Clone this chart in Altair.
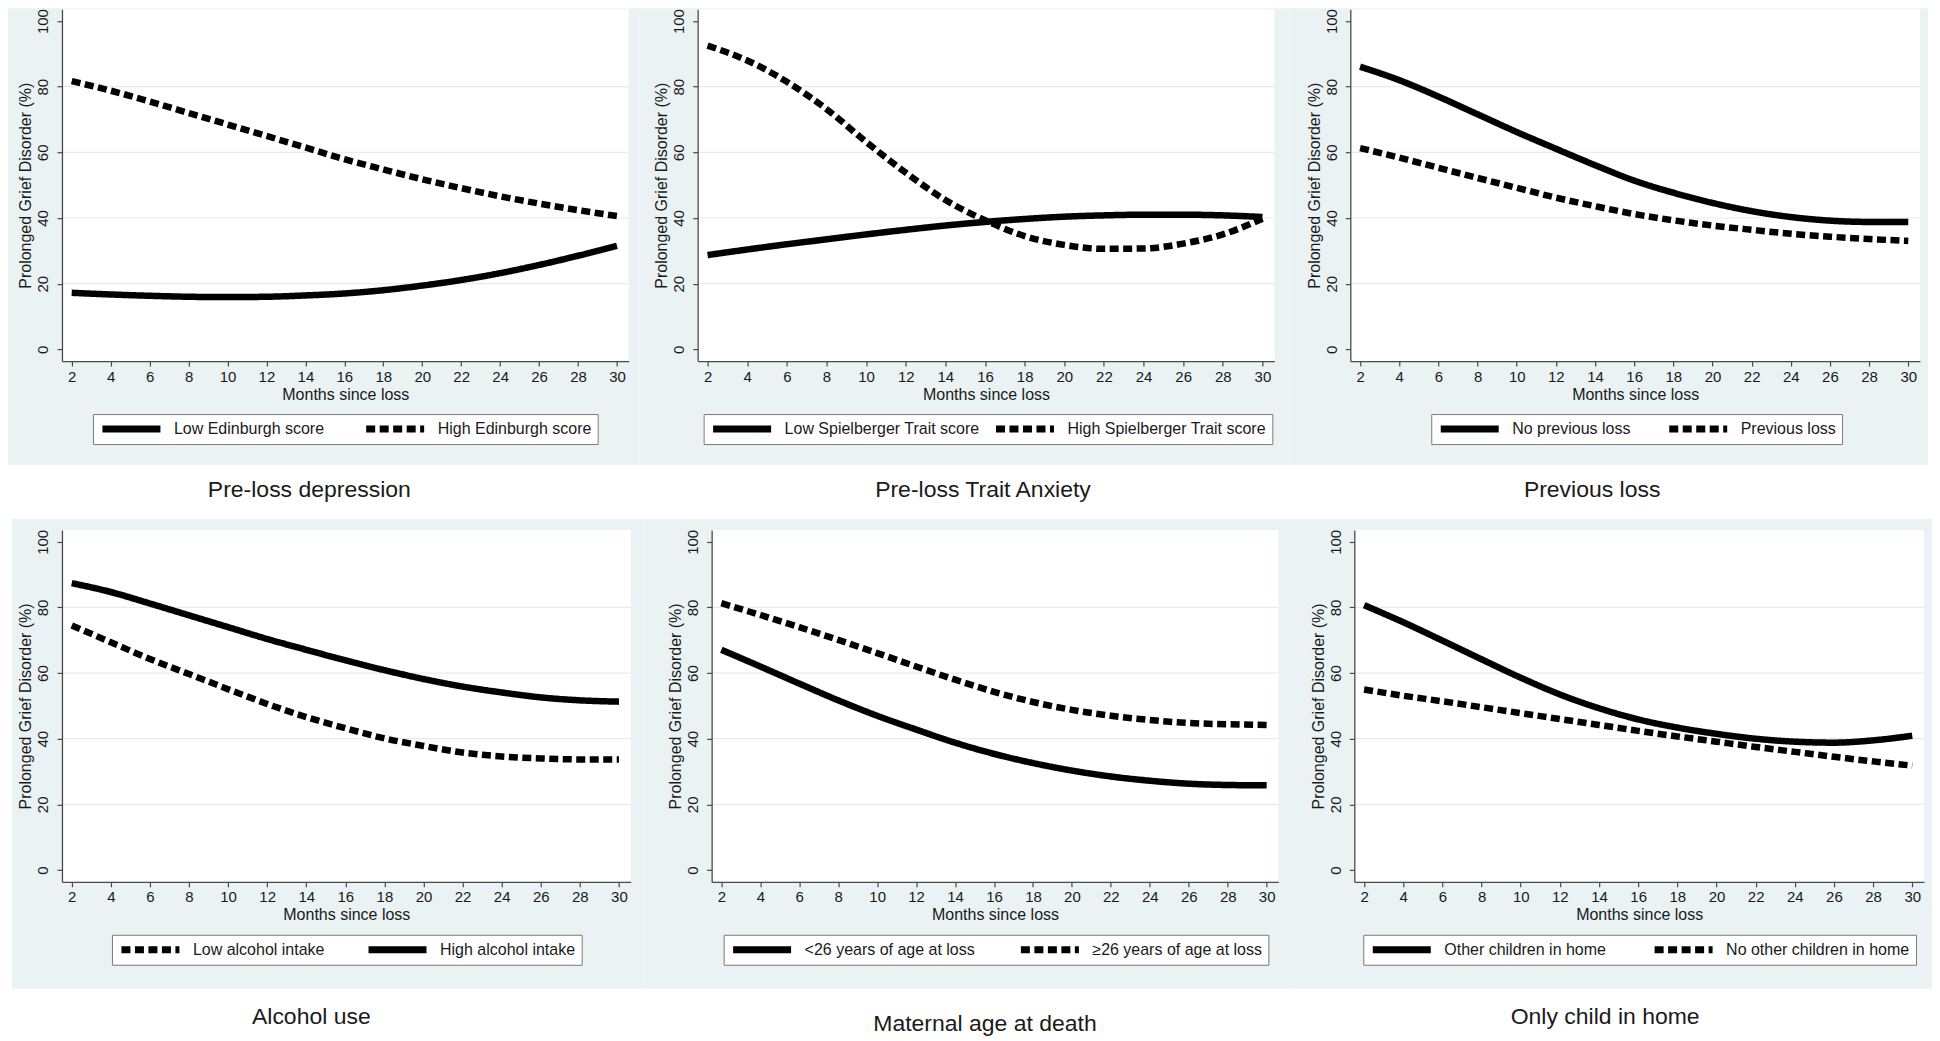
import altair as alt
import pandas as pd

# ---------------- data ----------------
months = [2, 4, 6, 8, 10, 12, 14, 16, 18, 20, 22, 24, 26, 28, 30]

dep_low = [17.2, 16.7, 16.3, 16.0, 15.9, 16.0, 16.4, 17.0, 18.0, 19.4, 21.1, 23.2, 25.7, 28.5, 31.5]
dep_high = [81.7, 78.8, 75.5, 72.0, 68.5, 65.0, 61.5, 57.9, 54.8, 51.8, 49.1, 46.6, 44.4, 42.4, 40.6]

anx_low = [28.7, 30.4, 32.0, 33.5, 35.0, 36.4, 37.7, 38.8, 39.7, 40.4, 40.8, 41.0, 41.0, 40.8, 40.3]
anx_high = [92.5, 88.0, 81.5, 73.2, 63.2, 53.8, 45.5, 39.3, 34.5, 31.8, 30.6, 30.7, 32.2, 35.0, 39.8]

prev_no = [86.1, 82.0, 77.0, 71.6, 66.2, 61.1, 56.1, 51.4, 47.7, 44.6, 42.1, 40.3, 39.2, 38.8, 38.8]
prev_yes = [61.3, 58.4, 55.3, 52.2, 49.2, 46.2, 43.6, 41.2, 39.3, 37.7, 36.4, 35.2, 34.3, 33.6, 33.0]

alc_low = [74.5, 69.4, 64.3, 59.7, 55.1, 50.6, 46.6, 43.2, 40.1, 37.8, 35.8, 34.6, 34.0, 33.7, 33.7]
alc_high = [87.4, 84.7, 81.2, 77.6, 74.0, 70.4, 67.1, 63.9, 60.9, 58.2, 55.9, 54.1, 52.6, 51.7, 51.3]

age_young = [67.1, 62.0, 56.8, 51.7, 47.0, 42.8, 38.8, 35.4, 32.6, 30.3, 28.5, 27.2, 26.3, 25.9, 25.8]
age_old = [81.3, 77.7, 74.0, 70.1, 66.1, 62.0, 58.0, 54.3, 51.2, 48.8, 47.0, 45.7, 44.8, 44.4, 44.2]

child_other = [80.7, 75.5, 69.9, 64.2, 58.6, 53.5, 49.3, 45.9, 43.4, 41.5, 40.0, 39.1, 38.8, 39.5, 40.9]
child_none = [55.0, 53.1, 51.4, 49.6, 47.8, 46.0, 44.2, 42.4, 40.7, 39.1, 37.5, 36.0, 34.5, 33.1, 31.8]

titles = ["Pre-loss depression", "Pre-loss Trait Anxiety", "Previous loss",
          "Alcohol use", "Maternal age at death", "Only child in home"]

# legend entries in legend order, with their line style
legend_labels = [
    ["Low Edinburgh score", "High Edinburgh score"],
    ["Low Spielberger Trait score", "High Spielberger Trait score"],
    ["No previous loss", "Previous loss"],
    ["Low alcohol intake", "High alcohol intake"],
    ["<26 years of age at loss", "\u226526 years of age at loss"],
    ["Other children in home", "No other children in home"],
]
legend_styles = [
    ["solid", "dash"], ["solid", "dash"], ["solid", "dash"],
    ["dash", "solid"], ["solid", "dash"], ["solid", "dash"],
]
series = [
    [dep_low, dep_high],
    [anx_low, anx_high],
    [prev_no, prev_yes],
    [alc_low, alc_high],
    [age_young, age_old],
    [child_other, child_none],
]

x_ticks = months
y_ticks = [0, 20, 40, 60, 80, 100]
grid_vals = [20, 40, 60, 80]

# ---------------- styling / layout ----------------
FONT = "Liberation Sans"
GREY = "#EAF2F3"
GRIDC = "#E4ECEE"
AXC = "#4a4a4a"
TXT = "#1a1a1a"
DASH = {"solid": [1, 0], "dash": [9, 4.5]}
H = 352

# per panel: plot width, grey left/right extension, legend x, legend width, title dx, title offset
layout = [
    dict(w=567, l=-54, r=11, lx=31, lw=504, dx=-36, to=14),
    dict(w=577, l=-58, r=15, lx=6, lw=565, dx=-3, to=14),
    dict(w=570, l=-61, r=8, lx=81, lw=410, dx=-43, to=14),
    dict(w=569, l=-50, r=13, lx=50, lw=469, dx=-35, to=17),
    dict(w=567, l=-68, r=15, lx=12, lw=544, dx=-10, to=24),
    dict(w=570, l=-61, r=8, lx=9, lw=552, dx=-34, to=17),
]
row_top = [-1, -11]
row_bot = [104, 107]

AFM_LOWER = dict(zip("abcdefghijklmnopqrstuvwxyz",
                     [556, 556, 500, 556, 556, 278, 556, 556, 222, 222, 500, 222, 833,
                      556, 556, 556, 556, 333, 500, 278, 556, 500, 722, 500, 500, 500]))
AFM_UPPER = dict(zip("ABCDEFGHIJKLMNOPQRSTUVWXYZ",
                     [667, 667, 722, 722, 667, 611, 778, 722, 278, 500, 667, 556, 833,
                      722, 778, 667, 778, 722, 667, 611, 722, 667, 944, 667, 667, 611]))
AFM_OTHER = {" ": 278, "<": 584, "\u2265": 549}


def text_width(s, size):
    tot = 0
    for c in s:
        if c in AFM_LOWER:
            tot += AFM_LOWER[c]
        elif c in AFM_UPPER:
            tot += AFM_UPPER[c]
        elif c in AFM_OTHER:
            tot += AFM_OTHER[c]
        else:
            tot += 556
    return tot * size / 1000.0


LEG_FS = 16
SYM_SIZE = 3364
SYM_W = 65
LAB_OFF = 10
LEG_PAD = 6

xs = alt.Scale(domain=[1.5, 30.6], nice=False, zero=False)
ys = alt.Scale(domain=[-3.6, 103.6], nice=False, zero=False)

x_axis = alt.Axis(values=x_ticks, title="Months since loss", grid=False,
                  labelFont=FONT, labelFontSize=15, labelColor=TXT, labelPadding=3,
                  titleFont=FONT, titleFontSize=16, titleFontWeight="normal", titleColor=TXT,
                  titlePadding=2, tickSize=5, tickColor=AXC, domainColor=AXC,
                  tickWidth=1.2, domainWidth=1.3, zindex=1)
y_axis = alt.Axis(values=y_ticks, title="Prolonged Grief Disorder (%)", grid=False,
                  labelFont=FONT, labelFontSize=15, labelColor=TXT, labelAngle=270,
                  labelAlign="center", labelBaseline="alphabetic", labelPadding=9,
                  titleFont=FONT, titleFontSize=16, titleFontWeight="normal", titleColor=TXT,
                  titlePadding=2, tickSize=5, tickColor=AXC, domainColor=AXC,
                  tickWidth=1.2, domainWidth=1.3, zindex=1)


def make_panel(i):
    lay = layout[i]
    row = i // 3
    W = lay["w"]
    labels = legend_labels[i]
    styles = legend_styles[i]
    a, b = series[i]
    df = pd.DataFrame({
        "month": months + months,
        "pct": a + b,
        "group": [labels[0]] * len(months) + [labels[1]] * len(months),
    })
    one = pd.DataFrame({"k": [0]})

    bg = alt.Chart(one).mark_rect(color=GREY).encode(
        x=alt.value(lay["l"]), x2=alt.value(W + lay["r"]),
        y=alt.value(row_top[row]), y2=alt.value(H + row_bot[row]))
    white = alt.Chart(one).mark_rect(color="white").encode(
        x=alt.value(0), x2=alt.value(W), y=alt.value(0), y2=alt.value(H))
    grid = alt.Chart(pd.DataFrame({"g": grid_vals})).mark_rule(
        color=GRIDC, strokeWidth=1.2).encode(y=alt.Y("g:Q", scale=ys, axis=y_axis))

    fixed = 2 * LEG_PAD + 2 * (SYM_W + LAB_OFF) + text_width(labels[0], LEG_FS) + text_width(labels[1], LEG_FS)
    cp = max(12, lay["lw"] - fixed)

    legend = alt.Legend(
        title=None, orient="none", legendX=lay["lx"], legendY=H + 53,
        direction="horizontal", columns=2, columnPadding=cp,
        symbolType="stroke", symbolSize=SYM_SIZE, symbolStrokeWidth=7,
        symbolStrokeColor="black", labelFont=FONT, labelFontSize=LEG_FS,
        labelColor=TXT, labelLimit=600, labelOffset=LAB_OFF, padding=LEG_PAD,
        clipHeight=18, strokeColor="#7a7a7a", fillColor="white", zindex=1)

    lines = alt.Chart(df).mark_line(
        color="black", strokeWidth=6.5, interpolate="monotone", strokeCap="butt").encode(
        x=alt.X("month:Q", scale=xs, axis=x_axis),
        y=alt.Y("pct:Q", scale=ys, axis=y_axis),
        strokeDash=alt.StrokeDash("group:N", sort=labels,
                                  scale=alt.Scale(domain=labels, range=[DASH[s] for s in styles]),
                                  legend=legend),
    )

    return alt.layer(bg, white, grid, lines).properties(
        width=W, height=H,
        title=alt.TitleParams(titles[i], orient="bottom", anchor="middle", frame="group",
                              dx=lay["dx"], offset=lay["to"], font=FONT, fontSize=23,
                              fontWeight="normal", color=TXT, zindex=1),
    )


row1 = alt.hconcat(*[make_panel(i) for i in range(3)], spacing=0).resolve_scale(
    strokeDash="independent").resolve_legend(strokeDash="independent")
row2 = alt.hconcat(*[make_panel(i) for i in range(3, 6)], spacing=0).resolve_scale(
    strokeDash="independent").resolve_legend(strokeDash="independent")

chart = alt.vconcat(row1, row2, spacing=17).resolve_scale(
    strokeDash="independent").resolve_legend(strokeDash="independent").properties(
    padding=0, background="white").configure_view(strokeWidth=0)

chart.save("out.html", embed_options={"renderer": "svg", "actions": False})
